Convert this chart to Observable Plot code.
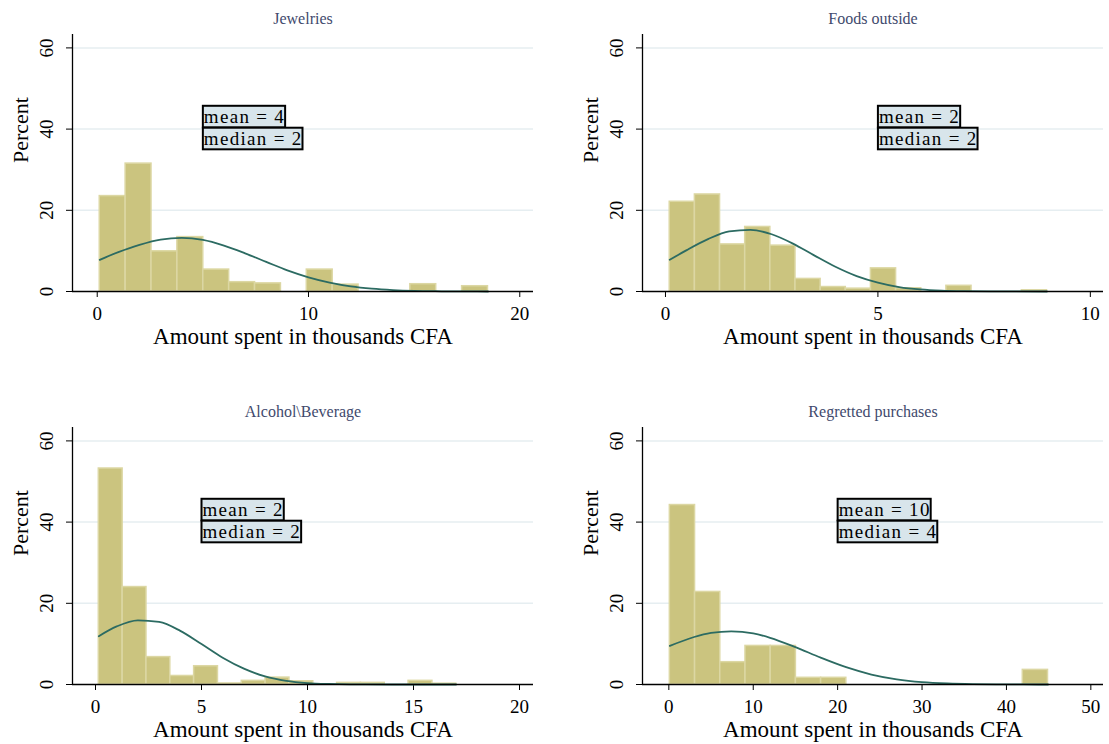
<!DOCTYPE html>
<html><head><meta charset="utf-8">
<script src="https://cdn.jsdelivr.net/npm/d3@7"></script>
<script src="https://cdn.jsdelivr.net/npm/@observablehq/plot@0.6"></script>
<style>
body{margin:0;background:#fff;overflow:hidden;}
#wrap{position:relative;width:1109px;height:744px;background:#fff;overflow:hidden;}
.panel{position:absolute;width:545px;height:393px;}
.panel svg{max-width:none !important;}
</style></head><body><div id="wrap"></div>
<script>
// ---- data ----
const titles = ["Jewelries", "Foods outside", "Alcohol\\Beverage", "Regretted purchases"];
const xAxisLabel = "Amount spent in thousands CFA";
const yAxisLabel = "Percent";
const yTicks = [0, 20, 40, 60];
const gridLevels = [20, 40, 60];

// histogram bins: first edge and width (thousands CFA)
const binStart = [0.12, 0.10, 0.156, 0.12];
const binWidth = [1.225, 0.592, 1.124, 2.987];

// percent per bin (15 bins each)
const jewelriesPct = [23.5, 31.5, 9.9, 13.4, 5.4, 2.3, 2.0, 0, 5.4, 1.7, 0, 0, 1.8, 0, 1.3];
const foodsPct     = [22.1, 23.9, 11.6, 15.9, 11.3, 3.1, 1.1, 0.7, 5.7, 0.8, 0, 1.4, 0, 0, 0.3];
const alcoholPct   = [53.2, 24.0, 6.75, 2.1, 4.5, 0.25, 0.9, 1.7, 0.8, 0, 0.4, 0.4, 0, 0.9, 0.2];
const regretPct    = [44.2, 22.8, 5.5, 9.5, 9.5, 1.65, 1.65, 0, 0, 0, 0, 0, 0, 0, 3.6];

// normal-density overlay, points
const jewelriesCurveX = [0.12, 1, 2, 3, 4, 5, 6, 7, 8, 9, 10, 11, 12, 13, 14, 15, 16, 17, 18, 18.5];
const jewelriesCurveY = [7.8, 9.7, 11.5, 12.8, 13.2, 12.7, 11.3, 9.4, 7.3, 5.2, 3.5, 2.2, 1.27, 0.69, 0.35, 0.16, 0.07, 0.03, 0.01, 0.0];
const foodsCurveX = [0.1, 0.5, 1, 1.5, 2, 2.5, 3, 3.5, 4, 4.5, 5, 5.5, 6, 6.5, 7, 8, 8.98];
const foodsCurveY = [7.8, 10.2, 12.9, 14.8, 15.2, 14.1, 11.8, 8.9, 6.1, 3.8, 2.2, 1.1, 0.5, 0.2, 0.08, 0.01, 0.0];
const alcoholCurveX = [0.156, 1, 2, 3, 4, 5, 6, 7, 8, 9, 10, 11, 12, 14, 17.01];
const alcoholCurveY = [11.9, 14.3, 15.8, 15.4, 13.2, 9.95, 6.6, 3.9, 2.0, 0.91, 0.36, 0.13, 0.04, 0.0, 0.0];
const regretCurveX = [0.12, 3, 5, 7.4, 10, 12, 15, 18, 21, 24, 27, 30, 33, 36, 39, 42, 44.93];
const regretCurveY = [9.5, 11.7, 12.7, 13.1, 12.6, 11.5, 9.2, 6.6, 4.26, 2.46, 1.28, 0.59, 0.25, 0.09, 0.03, 0.01, 0.0];

// text boxes
const meanLabels   = ["mean = 4", "mean = 2", "mean = 2", "mean = 10"];
const medianLabels = ["median = 2", "median = 2", "median = 2", "median = 4"];
const boxX = [5, 5, 5, 20];

// x ticks and x scale domains
const xTicksList = [[0, 10, 20], [0, 5, 10], [0, 5, 10, 15, 20], [0, 10, 20, 30, 40, 50]];
const xDomains = [[-1.17, 20.65], [-0.541, 10.31], [-1.085, 20.66], [-3.12, 51.5]];

// ---- build ----
const pctList = [jewelriesPct, foodsPct, alcoholPct, regretPct];
const curveXs = [jewelriesCurveX, foodsCurveX, alcoholCurveX, regretCurveX];
const curveYs = [jewelriesCurveY, foodsCurveY, alcoholCurveY, regretCurveY];

const wrap = document.getElementById("wrap");
const FONT = "'Liberation Serif', 'Times New Roman', serif";

titles.forEach((title, i) => {
  const bars = pctList[i].map((v, j) => ({
    x1: binStart[i] + j * binWidth[i],
    x2: binStart[i] + (j + 1) * binWidth[i],
    y: v
  }));
  const curve = curveXs[i].map((x, j) => ({x, y: curveYs[i][j]}));
  const boxes = [
    {x: boxX[i], y: 43.1, t: meanLabels[i]},
    {x: boxX[i], y: 37.7, t: medianLabels[i]}
  ];
  const plot = Plot.plot({
    width: 545, height: 393,
    marginLeft: 72, marginRight: 12, marginTop: 34, marginBottom: 102,
    style: {fontFamily: FONT, fontSize: "19px", color: "#000", background: "transparent", overflow: "visible"},
    x: {domain: xDomains[i], ticks: xTicksList[i], tickSize: 6, tickPadding: 9, label: null, tickFormat: d => String(d)},
    y: {domain: [0, 63.3], ticks: yTicks, tickSize: 6, tickPadding: 14, tickRotate: -90, label: null, tickFormat: d => String(d)},
    marks: [
      Plot.ruleY(gridLevels, {stroke: "#e6eef1", strokeWidth: 1.5}),
      Plot.rectY(bars, {x1: "x1", x2: "x2", y1: 0, y2: "y", fill: "#cbc47f", stroke: "#dcd7a3", strokeWidth: 1.5}),
      Plot.line(curve, {x: "x", y: "y", stroke: "#2c6b62", strokeWidth: 1.8, curve: "monotone-x"}),
      Plot.ruleY([0], {stroke: "#000", strokeWidth: 1.3}),
      Plot.ruleX([xDomains[i][0]], {stroke: "#000", strokeWidth: 1.3}),
      Plot.text(boxes, {x: "x", y: "y", text: "t", textAnchor: "start", dx: 1, fontSize: 19, fill: "#000"}),
      Plot.text([title], {frameAnchor: "top", dy: -22, fontSize: 16, fill: "#3f4a6d"}),
      Plot.text([xAxisLabel], {frameAnchor: "bottom", dy: 52, fontSize: 23, fill: "#000"}),
      Plot.text([yAxisLabel], {frameAnchor: "left", dx: -52, rotate: -90, fontSize: 22, fill: "#000"})
    ]
  });
  const div = document.createElement("div");
  div.className = "panel";
  div.style.left = (i % 2) * 570 + "px";
  div.style.top = Math.floor(i / 2) * 393 + "px";
  div.appendChild(plot);
  wrap.appendChild(div);

  const labels = new Set([meanLabels[i], medianLabels[i]]);
  Array.from(plot.querySelectorAll("text"))
    .filter(t => labels.has(t.textContent.trim()))
    .forEach(t => {
      t.style.letterSpacing = "1.3px";
      const b = t.getBBox();
      const r = document.createElementNS("http://www.w3.org/2000/svg", "rect");
      const cy = b.y + b.height / 2 + 0.5;
      r.setAttribute("x", b.x - 1);
      r.setAttribute("y", cy - 10.8);
      r.setAttribute("width", b.width + 1);
      r.setAttribute("height", 21.6);
      r.setAttribute("fill", "#d8e5eb");
      r.setAttribute("stroke", "#000");
      r.setAttribute("stroke-width", 2);
      if (t.getAttribute("transform")) r.setAttribute("transform", t.getAttribute("transform"));
      t.parentNode.insertBefore(r, t);
    });
});
</script>
</body></html>
